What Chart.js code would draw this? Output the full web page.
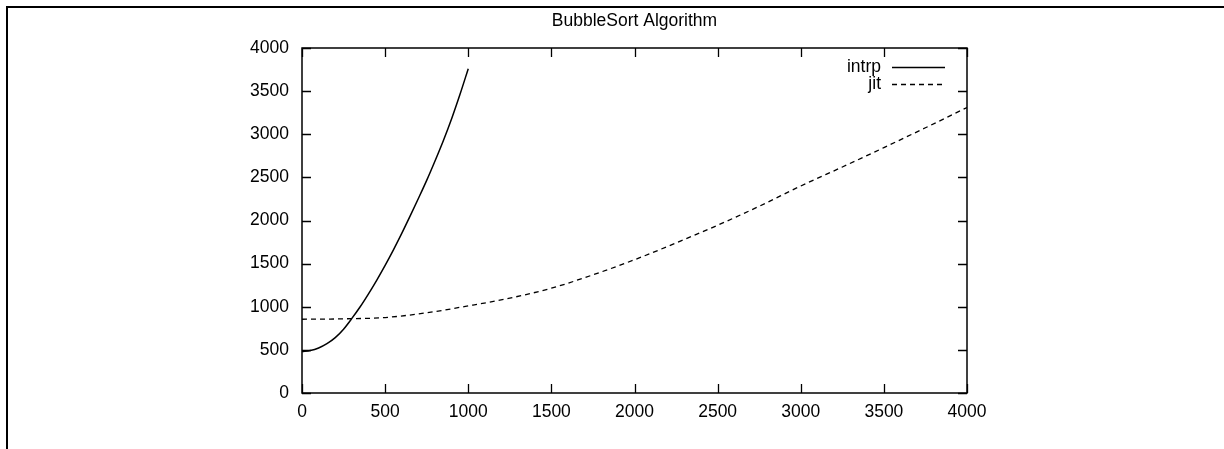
<!DOCTYPE html>
<html><head><meta charset="utf-8">
<script src="https://cdn.jsdelivr.net/npm/chart.js@4.4.0/dist/chart.umd.min.js"></script>
<style>html,body{margin:0;padding:0;background:#fff}#wrap{width:1224px;height:449px;position:relative}</style>
</head><body><div id="wrap"><canvas id="c" width="1224" height="449"></canvas></div>
<script>
const titleText = "BubbleSort Algorithm";
const seriesNames = ["intrp", "jit"];
const intrpX = [0,50,100,150,200,250,300,350,400,450,500,550,600,650,700,750,800,850,900,950,1000];
const intrpY = [480,492,522,572,642,740,865,1000,1150,1310,1480,1660,1850,2050,2255,2465,2690,2925,3180,3460,3760];
const jitX = [0,250,500,750,1000,1250,1500,1750,2000,2250,2500,2750,3000,3250,3500,3750,4000];
const jitY = [855,860,875,930,1010,1100,1215,1370,1545,1740,1945,2165,2400,2620,2845,3075,3310];
const xTicks = [0,500,1000,1500,2000,2500,3000,3500,4000];
const yTicks = [0,500,1000,1500,2000,2500,3000,3500,4000];

const FONT = '"Liberation Sans", Arial, sans-serif';
const FSIZE = 17.5;
const dashPat = [5,4];

const framePlugin = {
  id: 'frame',
  beforeDraw(chart) {
    const ctx = chart.ctx;
    ctx.save();
    ctx.fillStyle = '#fff';
    ctx.fillRect(0,0,chart.width,chart.height);
    ctx.strokeStyle = '#000';
    ctx.lineWidth = 2;
    ctx.beginPath();
    ctx.moveTo(7, chart.height);
    ctx.lineTo(7, 7);
    ctx.lineTo(chart.width, 7);
    ctx.stroke();
    ctx.restore();
  },
  afterDatasetsDraw(chart) {
    const ctx = chart.ctx;
    const a = chart.chartArea;
    const xs = chart.scales.x, ys = chart.scales.y;
    ctx.save();
    ctx.strokeStyle = '#000';
    ctx.lineWidth = 1.3;
    ctx.beginPath();
    const L = 9;
    xTicks.forEach(v => {
      const p = Math.round(xs.getPixelForValue(v)) + 0.5;
      ctx.moveTo(p, a.bottom); ctx.lineTo(p, a.bottom - L);
      ctx.moveTo(p, a.top); ctx.lineTo(p, a.top + L);
    });
    yTicks.forEach(v => {
      const p = Math.round(ys.getPixelForValue(v)) + 0.5;
      ctx.moveTo(a.left, p); ctx.lineTo(a.left + L, p);
      ctx.moveTo(a.right, p); ctx.lineTo(a.right - L, p);
    });
    ctx.stroke();
    ctx.lineWidth = 1.5;
    ctx.strokeRect(a.left, a.top, a.right - a.left, a.bottom - a.top);
    // title
    ctx.fillStyle = '#000';
    ctx.font = FSIZE + 'px ' + FONT;
    ctx.textAlign = 'center';
    ctx.textBaseline = 'middle';
    ctx.fillText(titleText, (a.left + a.right) / 2, 21);
    // legend
    ctx.textAlign = 'right';
    const rows = [{name: seriesNames[0], dash: []}, {name: seriesNames[1], dash: dashPat}];
    rows.forEach((r, i) => {
      const y = 67 + i * 17;
      ctx.fillText(r.name, 881, y);
      ctx.setLineDash(r.dash);
      ctx.lineWidth = 1.3;
      ctx.beginPath();
      ctx.moveTo(892, y + 0.5); ctx.lineTo(945, y + 0.5);
      ctx.stroke();
    });
    ctx.setLineDash([]);
    ctx.restore();
  }
};

new Chart(document.getElementById('c'), {
  type: 'line',
  data: {
    datasets: [
      { label: seriesNames[0], data: intrpX.map((x,i)=>({x, y: intrpY[i]})), borderColor:'#000', borderWidth:1.5, pointRadius:0, cubicInterpolationMode:'monotone', fill:false },
      { label: seriesNames[1], data: jitX.map((x,i)=>({x, y: jitY[i]})), borderColor:'#000', borderWidth:1.3, borderDash: dashPat, pointRadius:0, cubicInterpolationMode:'monotone', fill:false }
    ]
  },
  options: {
    responsive: false,
    animation: false,
    devicePixelRatio: 1,
    layout: { padding: { top: 48, right: 257, left: 0, bottom: 0 } },
    plugins: { legend: { display: false }, title: { display: false }, tooltip: { enabled: false } },
    scales: {
      x: {
        type: 'linear', min: 0, max: 4000,
        afterFit(s) { s.height = 56; },
        afterBuildTicks(s) { s.ticks = xTicks.map(v => ({value: v})); },
        grid: { display: false, drawTicks: false },
        border: { display: false },
        ticks: { color: '#000', font: { family: FONT, size: FSIZE }, padding: 9, maxRotation: 0, callback: v => String(v) }
      },
      y: {
        type: 'linear', min: 0, max: 4000,
        afterFit(s) { s.width = 302; },
        afterBuildTicks(s) { s.ticks = yTicks.map(v => ({value: v})); },
        grid: { display: false, drawTicks: false },
        border: { display: false },
        ticks: { color: '#000', font: { family: FONT, size: FSIZE }, padding: 13, callback: v => String(v) }
      }
    }
  },
  plugins: [framePlugin]
});
</script>
</body></html>
